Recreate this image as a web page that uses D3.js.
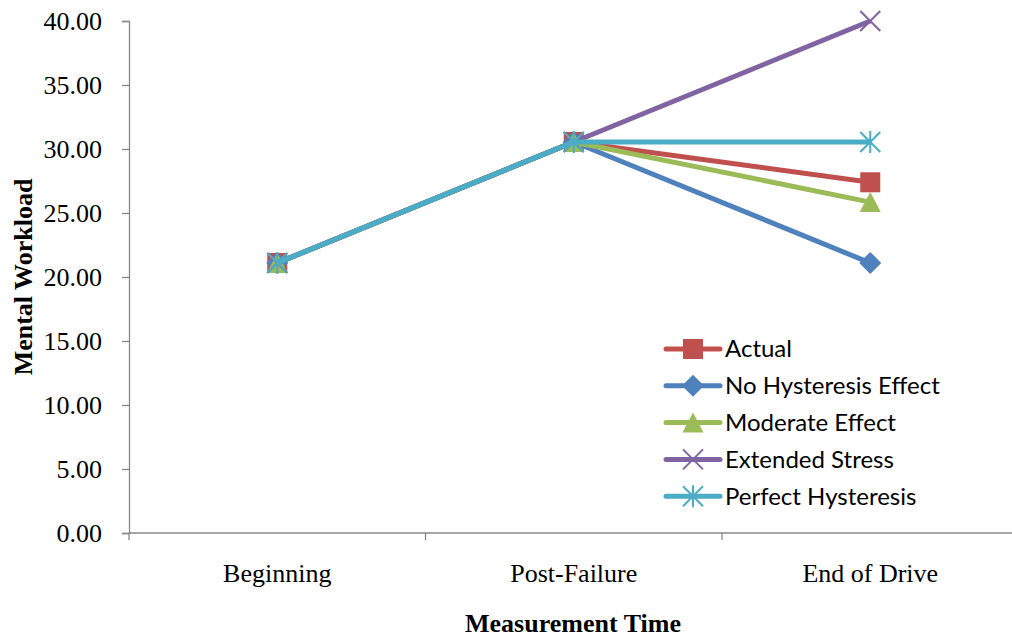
<!DOCTYPE html>
<html>
<head>
<meta charset="utf-8">
<script src="https://cdn.jsdelivr.net/npm/d3@7"></script>
<style>
  html, body { margin: 0; padding: 0; background: #fff; }
  svg { display: block; }
</style>
</head>
<body>
<svg id="chart" width="1012" height="638"></svg>
<script>
// Measurement points along the drive
const categories = ["Beginning", "Post-Failure", "End of Drive"];

// Mental workload per scenario at each measurement point
const actual       = [21.1, 30.55, 27.4];
const noHysteresis = [21.1, 30.55, 21.1];
const moderate     = [21.1, 30.55, 25.85];
const extended     = [21.1, 30.55, 40.0];
const perfect      = [21.1, 30.55, 30.55];

const seriesNames  = ["Actual", "No Hysteresis Effect", "Moderate Effect", "Extended Stress", "Perfect Hysteresis"];
const seriesColors = ["#C0504D", "#4F81BD", "#9BBB59", "#8064A2", "#4BACC6"];
const seriesMarks  = ["square", "diamond", "triangle", "cross", "star"];

const yTicks = [0, 5, 10, 15, 20, 25, 30, 35, 40];

const series = [actual, noHysteresis, moderate, extended, perfect].map((values, i) => ({
  name: seriesNames[i], color: seriesColors[i], mark: seriesMarks[i], values
}));

const svg = d3.select("#chart");
const plotLeft = 129, plotRight = 1018.5, plotTop = 21, plotBottom = 533;

const x = d3.scaleBand().domain(categories).range([plotLeft, plotRight]);
const y = d3.scaleLinear().domain([0, 40]).range([plotBottom, plotTop]);

const serif = "'Liberation Serif', 'Times New Roman', serif";
const axisColor = "#878787";
const fontSize = 26;

// Y axis
const yAxis = svg.append("g")
  .attr("transform", `translate(${plotLeft},0)`)
  .call(d3.axisLeft(y).tickValues(yTicks).tickFormat(d3.format(".2f")).tickSize(7).tickPadding(20));
yAxis.select(".domain").attr("stroke", axisColor).attr("stroke-width", 1.3);
yAxis.selectAll(".tick line").attr("stroke", axisColor).attr("stroke-width", 1.3);
yAxis.selectAll(".tick text").attr("font-family", serif).attr("font-size", fontSize).attr("fill", "#000");

// X axis with ticks on category boundaries
const xAxis = svg.append("g").attr("transform", `translate(0,${plotBottom})`);
xAxis.append("line").attr("x1", plotLeft).attr("x2", plotRight).attr("y1", 0).attr("y2", 0)
  .attr("stroke", axisColor).attr("stroke-width", 1.3);
const boundaries = categories.map(c => x(c)).concat([plotRight]);
xAxis.selectAll("line.tick").data(boundaries).join("line").attr("class", "tick")
  .attr("x1", d => d).attr("x2", d => d).attr("y1", 0).attr("y2", 7)
  .attr("stroke", axisColor).attr("stroke-width", 1.3);
xAxis.selectAll("text").data(categories).join("text")
  .attr("x", d => x(d) + x.bandwidth() / 2).attr("y", 49)
  .attr("text-anchor", "middle").attr("font-family", serif).attr("font-size", fontSize).attr("fill", "#000")
  .text(d => d);

// Axis titles
svg.append("text").attr("x", 573).attr("y", 632)
  .attr("text-anchor", "middle").attr("font-family", serif).attr("font-weight", "bold")
  .attr("font-size", fontSize).text("Measurement Time");
svg.append("text").attr("transform", `translate(32,${(plotTop + plotBottom) / 2}) rotate(-90)`)
  .attr("text-anchor", "middle").attr("font-family", serif).attr("font-weight", "bold")
  .attr("font-size", fontSize).text("Mental Workload");

// Marker shapes
function drawMarker(g, mark, color, cx, cy) {
  const s = 10;
  if (mark === "square") {
    g.append("rect").attr("x", cx - s).attr("y", cy - s).attr("width", 2 * s).attr("height", 2 * s)
      .attr("fill", color);
  } else if (mark === "diamond") {
    g.append("path").attr("d", `M${cx},${cy - 11}L${cx + 11},${cy}L${cx},${cy + 11}L${cx - 11},${cy}Z`)
      .attr("fill", color);
  } else if (mark === "triangle") {
    g.append("path").attr("d", `M${cx},${cy - 10}L${cx + 10.5},${cy + 10}L${cx - 10.5},${cy + 10}Z`)
      .attr("fill", color);
  } else if (mark === "cross") {
    g.append("path").attr("d", `M${cx - s},${cy - s}L${cx + s},${cy + s}M${cx + s},${cy - s}L${cx - s},${cy + s}`)
      .attr("stroke", color).attr("stroke-width", 2).attr("fill", "none");
  } else if (mark === "star") {
    g.append("path").attr("d", `M${cx - s},${cy - s}L${cx + s},${cy + s}M${cx + s},${cy - s}L${cx - s},${cy + s}M${cx},${cy - s - 1}L${cx},${cy + s + 1}`)
      .attr("stroke", color).attr("stroke-width", 2).attr("fill", "none");
  }
}

// Series lines and markers
const line = d3.line()
  .x((d, i) => x(categories[i]) + x.bandwidth() / 2)
  .y(d => y(d));

series.forEach(s => {
  const g = svg.append("g");
  g.append("path").datum(s.values).attr("d", line)
    .attr("fill", "none").attr("stroke", s.color).attr("stroke-width", 5).attr("stroke-linejoin", "round");
  s.values.forEach((v, i) => drawMarker(g, s.mark, s.color, x(categories[i]) + x.bandwidth() / 2, y(v)));
});

// Legend
const legend = svg.append("g").attr("transform", "translate(666,349)");
series.forEach((s, i) => {
  const g = legend.append("g").attr("transform", `translate(0,${i * 36.8})`);
  g.append("line").attr("x1", 0).attr("x2", 54).attr("y1", 0).attr("y2", 0)
    .attr("stroke", s.color).attr("stroke-width", 5).attr("stroke-linecap", "round");
  drawMarker(g, s.mark, s.color, 27, 0);
  g.append("text").attr("x", 59).attr("y", 0).attr("dy", "0.35em")
    .attr("font-family", "Lato, 'Open Sans', sans-serif").attr("font-size", 24).attr("fill", "#000")
    .text(s.name);
});
</script>
</body>
</html>
